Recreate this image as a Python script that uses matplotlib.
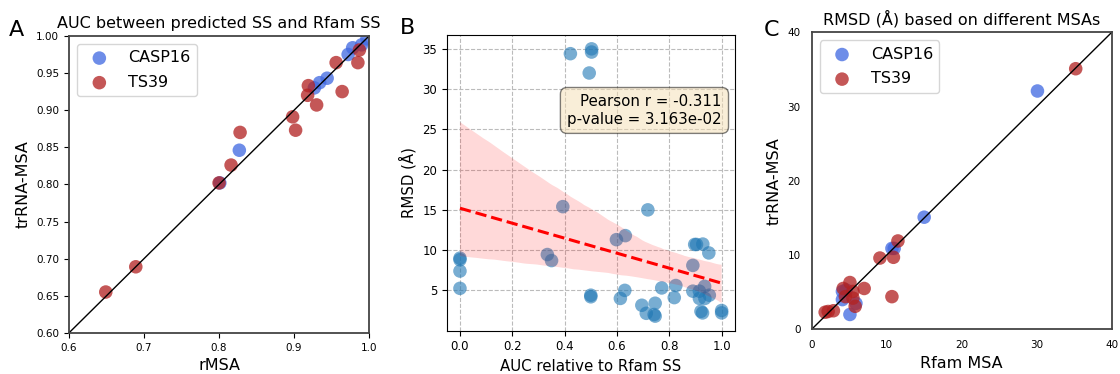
import numpy as np
import matplotlib
matplotlib.use("Agg")
import matplotlib.pyplot as plt
import seaborn as sns

# panel A: AUC vs Rfam SS
casp_auc_rmsa = [0.801, 0.827, 0.927, 0.934, 0.944, 0.972, 0.978, 0.990, 0.997]
casp_auc_trrna = [0.802, 0.846, 0.930, 0.937, 0.943, 0.975, 0.984, 0.988, 0.996]
ts_auc_rmsa = [0.649, 0.689, 0.800, 0.816, 0.828, 0.898, 0.902, 0.919, 0.918,
               0.930, 0.956, 0.964, 0.985, 0.987]
ts_auc_trrna = [0.655, 0.689, 0.802, 0.826, 0.870, 0.891, 0.873, 0.933, 0.920,
                0.907, 0.964, 0.925, 0.964, 0.981]

# panel B: AUC vs RMSD
auc_vals = [0.0, 0.0, 0.0, 0.0, 0.422, 0.503, 0.503, 0.494, 0.393, 0.334, 0.350,
            0.500, 0.500, 0.598, 0.632, 0.613, 0.630, 0.718, 0.695, 0.712, 0.746,
            0.742, 0.746, 0.771, 0.825, 0.819, 0.890, 0.897, 0.904, 0.928, 0.951,
            0.890, 0.915, 0.935, 0.915, 0.936, 0.953, 0.921, 0.927, 1.0, 1.0]
rmsd_vals = [9.0, 8.8, 7.4, 5.25, 34.4, 35.0, 34.6, 32.0, 15.4, 9.45, 8.7,
             4.4, 4.2, 11.3, 11.8, 4.0, 5.0, 15.0, 3.15, 2.15, 3.4,
             2.0, 1.8, 5.3, 5.6, 4.1, 8.1, 10.7, 10.7, 10.75, 9.65,
             4.9, 4.9, 5.5, 4.0, 4.0, 4.4, 2.4, 2.2, 2.5, 2.2]
pearson_text = "Pearson r = -0.311\np-value = 3.163e-02"

# panel C: RMSD with different MSAs
casp_rmsd_rfam = [30.1, 15.0, 11.0, 10.7, 4.1, 4.1, 5.9, 5.1, 4.6]
casp_rmsd_trrna = [32.1, 15.1, 10.9, 10.9, 5.1, 4.0, 3.5, 2.0, 5.3]
ts_rmsd_rfam = [35.2, 11.5, 10.9, 9.1, 10.7, 5.1, 7.0, 4.2, 5.5, 4.5, 5.8, 5.5,
                2.2, 2.9, 1.8]
ts_rmsd_trrna = [35.1, 11.9, 9.7, 9.6, 4.4, 6.3, 5.5, 5.5, 5.1, 4.4, 3.1, 4.2,
                 2.4, 2.5, 2.3]

BLUE = "royalblue"
RED = "firebrick"
SPINE = "#444444"
ALPHA = 0.76

fig = plt.figure(figsize=(11.2, 3.74), dpi=100)
axA = fig.add_axes([0.0616, 0.110, 0.268, 0.794])
axB = fig.add_axes([0.399, 0.116, 0.257, 0.790])
axC = fig.add_axes([0.7247, 0.1195, 0.2679, 0.794])

# ---- A
axA.scatter(casp_auc_rmsa, casp_auc_trrna, s=95, color=BLUE, alpha=ALPHA,
            edgecolors="none", label="CASP16")
axA.scatter(ts_auc_rmsa, ts_auc_trrna, s=95, color=RED, alpha=ALPHA,
            edgecolors="none", label="TS39")
axA.plot([0.6, 1.0], [0.6, 1.0], color="black", lw=1)
axA.set_xlim(0.6, 1.0)
axA.set_ylim(0.6, 1.0)
axA.set_xticks(np.arange(0.6, 1.01, 0.1))
axA.set_yticks(np.arange(0.6, 1.001, 0.05))
axA.set_xticklabels(["0.6", "0.7", "0.8", "0.9", "1.0"])
axA.set_yticklabels(["%.2f" % v for v in np.arange(0.6, 1.001, 0.05)])
axA.tick_params(labelsize=7.5)
axA.set_xlabel("rMSA", fontsize=11.5)
axA.set_ylabel("trRNA-MSA", fontsize=11.5)
axA.set_title("AUC between predicted SS and Rfam SS", fontsize=11.5)
axA.legend(loc="upper left", fontsize=11.5, labelspacing=0.6)
for sp in axA.spines.values():
    sp.set_color(SPINE)
    sp.set_linewidth(1.3)

# ---- B
axB.scatter(auc_vals, rmsd_vals, s=95, color="#1f77b4", alpha=0.6, edgecolors="none")
sns.regplot(x=np.array(auc_vals), y=np.array(rmsd_vals), ax=axB, scatter=False,
            color="red", seed=3, line_kws=dict(ls="--", lw=2.2))
axB.set_xticks(np.arange(0, 1.01, 0.2))
axB.set_yticks([5, 10, 15, 20, 25, 30, 35])
axB.tick_params(labelsize=8.5)
axB.grid(True, ls="--", color="#bbbbbb", lw=0.8)
axB.set_axisbelow(True)
axB.set_xlabel("AUC relative to Rfam SS", fontsize=10.8)
axB.set_ylabel("RMSD (Å)", fontsize=10.8)
axB.text(0.955, 0.80, pearson_text, transform=axB.transAxes, ha="right", va="top",
         fontsize=10.8, bbox=dict(boxstyle="round,pad=0.45", facecolor="wheat", alpha=0.5))
axB.set_xlim(-0.05, 1.05)
axB.set_ylim(0.0, 36.7)

# ---- C
axC.scatter(casp_rmsd_rfam, casp_rmsd_trrna, s=95, color=BLUE, alpha=ALPHA,
            edgecolors="none", label="CASP16")
axC.scatter(ts_rmsd_rfam, ts_rmsd_trrna, s=95, color=RED, alpha=ALPHA,
            edgecolors="none", label="TS39")
axC.plot([0, 40], [0, 40], color="black", lw=1)
axC.set_xlim(0, 40)
axC.set_ylim(0, 40)
axC.set_xticks([0, 10, 20, 30, 40])
axC.set_yticks([0, 10, 20, 30, 40])
axC.tick_params(labelsize=7.5, length=0, pad=8)
axC.set_xlabel("Rfam MSA", fontsize=11.5)
axC.set_ylabel("trRNA-MSA", fontsize=11.5)
axC.set_title("RMSD (Å) based on different MSAs", fontsize=11.5)
axC.legend(loc="upper left", fontsize=11.5, labelspacing=0.6)
for sp in axC.spines.values():
    sp.set_color(SPINE)
    sp.set_linewidth(1.3)

fig.text(0.008, 0.905, "A", fontsize=16)
fig.text(0.357, 0.91, "B", fontsize=16)
fig.text(0.682, 0.905, "C", fontsize=16)

fig.savefig("out.png", dpi=100)
